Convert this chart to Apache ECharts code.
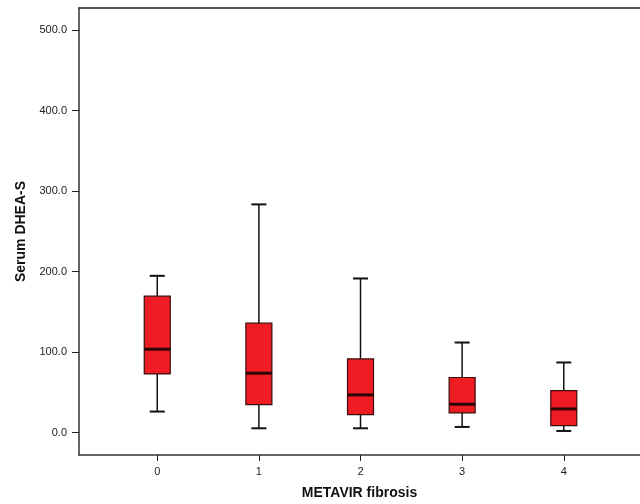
<!DOCTYPE html>
<html>
<head>
<meta charset="utf-8">
<script src="https://cdn.jsdelivr.net/npm/echarts@6/dist/echarts.min.js"></script>
<style>
  html, body { margin: 0; padding: 0; background: #fff; }
  #main { width: 640px; height: 504px; }
</style>
</head>
<body>
<div id="main"></div>
<script>
// METAVIR stage groups
const categories = [0, 1, 2, 3, 4];
// whisker low, Q1, median, Q3, whisker high
const lowWhisker = [26.1, 5.3, 5.3, 7.0, 2.0];
const q1Values = [72.9, 34.8, 22.4, 24.4, 8.7];
const medianValues = [103.6, 73.8, 46.8, 35.2, 29.4];
const q3Values = [169.5, 135.9, 91.5, 68.4, 52.2];
const highWhisker = [194.8, 283.6, 191.5, 111.9, 87.1];
const yTicks = [0, 100, 200, 300, 400, 500];

const boxData = categories.map((c, i) => [
  c, lowWhisker[i], q1Values[i], medianValues[i], q3Values[i], highWhisker[i]
]);

const chart = echarts.init(document.getElementById('main'));

function renderBox(params, api) {
  const x = api.value(0);
  const pLow = api.coord([x, api.value(1)]);
  const pQ1 = api.coord([x, api.value(2)]);
  const pMed = api.coord([x, api.value(3)]);
  const pQ3 = api.coord([x, api.value(4)]);
  const pHigh = api.coord([x, api.value(5)]);
  const cx = pQ1[0];
  const halfBox = 13;
  const halfCap = 7.5;
  const lineStyle = { stroke: '#111', lineWidth: 1.5 };
  return {
    type: 'group',
    children: [
      { type: 'line', shape: { x1: cx, y1: pHigh[1], x2: cx, y2: pQ3[1] }, style: lineStyle },
      { type: 'line', shape: { x1: cx, y1: pQ1[1], x2: cx, y2: pLow[1] }, style: lineStyle },
      { type: 'line', shape: { x1: cx - halfCap, y1: pHigh[1], x2: cx + halfCap, y2: pHigh[1] }, style: { stroke: '#111', lineWidth: 2 } },
      { type: 'line', shape: { x1: cx - halfCap, y1: pLow[1], x2: cx + halfCap, y2: pLow[1] }, style: { stroke: '#111', lineWidth: 2 } },
      {
        type: 'rect',
        shape: { x: cx - halfBox, y: pQ3[1], width: halfBox * 2, height: pQ1[1] - pQ3[1] },
        style: { fill: '#f01c24', stroke: '#3a0c0c', lineWidth: 1.2 }
      },
      { type: 'line', shape: { x1: cx - halfBox, y1: pMed[1], x2: cx + halfBox, y2: pMed[1] }, style: { stroke: '#2a0707', lineWidth: 3 } }
    ]
  };
}

const option = {
  animation: false,
  backgroundColor: '#fff',
  grid: { left: 79, right: 0, top: 8, bottom: 49, outerBoundsMode: 'none' },
  xAxis: [{
    type: 'value',
    min: -0.77,
    max: 4.75,
    name: 'METAVIR fibrosis',
    nameLocation: 'middle',
    nameGap: 31,
    nameTextStyle: { fontFamily: 'Liberation Sans', fontWeight: 'bold', fontSize: 14, color: '#111' },
    splitLine: { show: false },
    axisLine: { onZero: false, lineStyle: { color: '#333', width: 1.5 } },
    axisTick: { customValues: categories, length: 6, lineStyle: { color: '#222' } },
    axisLabel: {
      customValues: categories,
      margin: 11,
      fontFamily: 'Liberation Sans',
      fontSize: 11,
      color: '#222'
    }
  }, {
    type: 'value',
    position: 'top',
    min: -0.77,
    max: 4.75,
    splitLine: { show: false },
    axisLine: { show: true, onZero: false, lineStyle: { color: '#222', width: 1.5 } },
    axisTick: { show: false },
    axisLabel: { show: false }
  }],
  yAxis: {
    type: 'value',
    min: -27.9,
    max: 527.7,
    name: 'Serum DHEA-S',
    nameLocation: 'middle',
    nameGap: 51,
    nameTextStyle: { fontFamily: 'Liberation Sans', fontWeight: 'bold', fontSize: 14, color: '#111' },
    splitLine: { show: false },
    axisLine: { show: true, onZero: false, lineStyle: { color: '#333', width: 1.5 } },
    axisTick: { customValues: yTicks, length: 7, lineStyle: { color: '#222' } },
    axisLabel: {
      customValues: yTicks,
      margin: 12,
      fontFamily: 'Liberation Sans',
      fontSize: 11,
      color: '#222',
      formatter: v => v.toFixed(1)
    }
  },
  series: [{
    type: 'custom',
    renderItem: renderBox,
    encode: { x: 0, y: [1, 2, 3, 4, 5] },
    data: boxData
  }]
};

chart.setOption(option);
</script>
</body>
</html>
